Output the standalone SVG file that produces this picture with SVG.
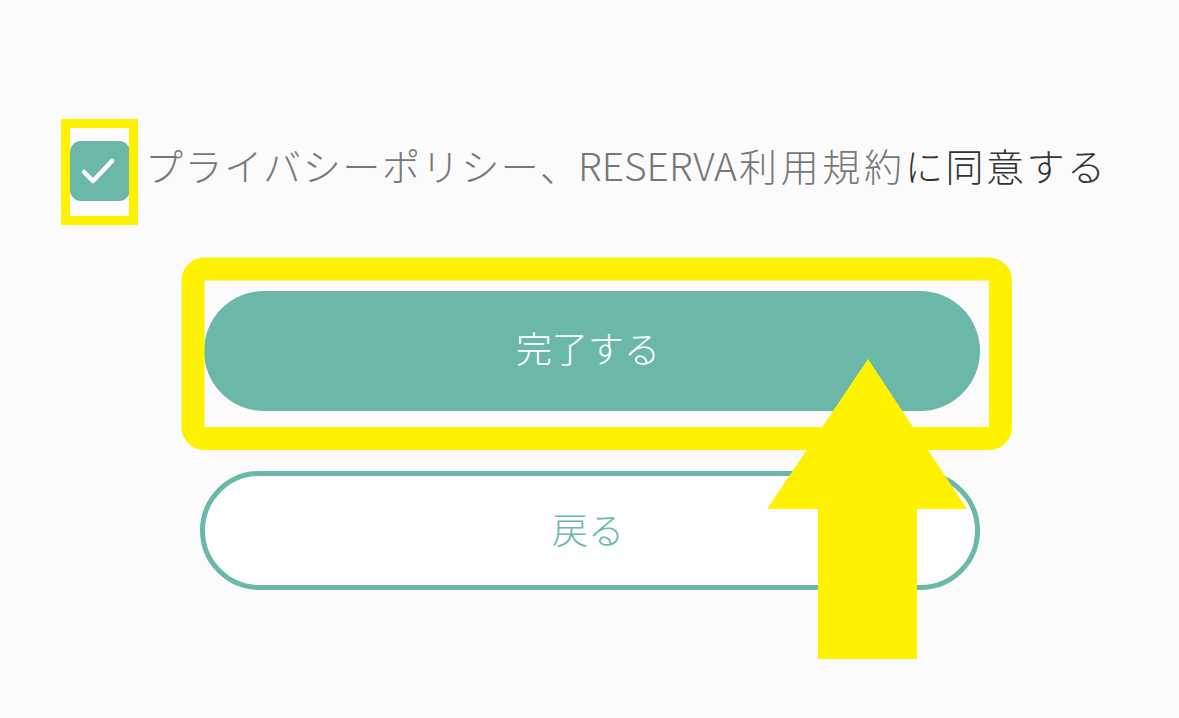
<svg xmlns="http://www.w3.org/2000/svg" width="1179" height="718" viewBox="0 0 1179 718">
<style>
.hl{fill:none;stroke:#fff200;}
.jp{font-family:"Noto Sans CJK JP","Noto Sans",sans-serif;font-weight:300;}
</style>
<rect width="1179" height="718" fill="#fbfbfb"/>
<g id="checkbox">
<rect x="70" y="141" width="60" height="60" rx="11" fill="#6bb8a8"/>
<path d="M84,172 L93,181 L112,161" fill="none" stroke="#ffffff" stroke-width="4.5" stroke-linecap="round" stroke-linejoin="round"/>
<rect class="hl" x="65.5" y="123.5" width="68" height="97" stroke-width="9"/>
</g>
<g id="agree-label" class="jp" font-size="38">
<text x="145" y="181" fill="#777777" textLength="433" lengthAdjust="spacing">プライバシーポリシー、</text>
<text x="578" y="181" fill="#777777" textLength="159" lengthAdjust="spacingAndGlyphs">RESERVA</text>
<text x="739" y="181" fill="#777777" textLength="163" lengthAdjust="spacing">利用規約</text>
<text x="905" y="181" fill="#333333" textLength="200" lengthAdjust="spacing">に同意する</text>
</g>
<g id="complete-button">
<rect x="204" y="291" width="776" height="120" rx="60" fill="#6bb8a8"/>
<text x="588" y="363" class="jp" font-size="36" fill="#ffffff" text-anchor="middle">完了する</text>
<rect class="hl" x="193" y="269" width="807.5" height="169.5" rx="11.5" stroke-width="23"/>
</g>
<g id="back-button">
<rect x="202.5" y="473.5" width="775" height="114" rx="57" fill="#ffffff" stroke="#6bb8a8" stroke-width="5"/>
<text x="588" y="544" class="jp" font-size="36" fill="#6bb8a8" text-anchor="middle">戻る</text>
</g>
<g id="connectors">
<polygon points="868,359 967,509 917,509 917,659 818,659 818,509 767,509" fill="#fff200"/>
</g>
</svg>
